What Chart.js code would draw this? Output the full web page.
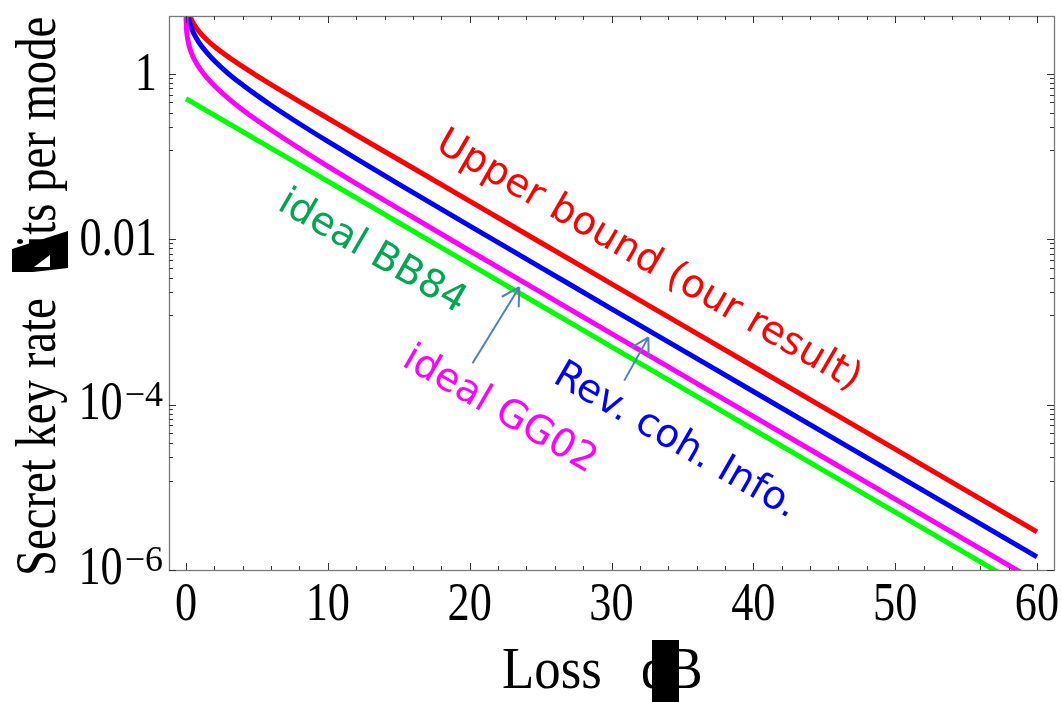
<!DOCTYPE html>
<html lang="en">
<head>
<meta charset="UTF-8">
<title>Secret key rate vs loss</title>
<style>
    body {
        margin: 0;
        background: #ffffff;
    }
</style>
</head>
<body>
<canvas id="rateChart" width="1062" height="702"></canvas>

<script src="https://cdn.jsdelivr.net/npm/chart.js"></script>
<script>
    // loss in dB, shared grid for every curve (denser near 0 where the curves bend)
    const lossDb = [0, 0.002, 0.005, 0.01, 0.02, 0.05, 0.1, 0.2, 0.3, 0.5, 0.75, 1, 1.5, 2, 3, 4, 5, 6, 8, 10, 12, 15, 20, 25, 30, 40, 50, 60];

    // secret key rate, bits per mode (null = above the frame)
    const upperBound = [null, null, null, null, null, 7.44, 6.44, 5.44, 4.86, 4.12, 3.54, 3.12, 2.55, 2.14, 1.59, 1.22, 0.945, 0.741, 0.461, 0.290, 0.182, 0.0913, 0.0289, 0.00912, 0.00289, 2.89e-4, 2.89e-5, 2.89e-6];
    const revCohInfo = [null, null, null, null, 7.77, 6.45, 5.46, 4.47, 3.91, 3.20, 2.66, 2.28, 1.78, 1.44, 1.00, 0.732, 0.548, 0.417, 0.249, 0.152, 0.094, 0.0464, 0.0145, 0.00457, 0.00144, 1.44e-4, 1.44e-5, 1.44e-6];
    const idealGG02 = [null, 5.54, 4.88, 4.38, 3.88, 3.22, 2.73, 2.24, 1.96, 1.60, 1.33, 1.14, 0.888, 0.719, 0.502, 0.366, 0.274, 0.209, 0.125, 0.076, 0.047, 0.0232, 0.00725, 0.00229, 7.2e-4, 7.2e-5, 7.2e-6, 7.2e-7];
    const idealBB84 = [0.5, 0.4998, 0.4994, 0.4989, 0.4977, 0.4943, 0.4886, 0.4775, 0.4666, 0.4456, 0.4207, 0.3972, 0.354, 0.3155, 0.2506, 0.1991, 0.1581, 0.1256, 0.0792, 0.05, 0.0316, 0.0158, 0.005, 0.00158, 5e-4, 5e-5, 5e-6, 5e-7];

    // axes
    const xMajorTicks = [0, 10, 20, 30, 40, 50, 60];
    const xMinorTicks = [2, 4, 6, 8, 12, 14, 16, 18, 22, 24, 26, 28, 32, 34, 36, 38, 42, 44, 46, 48, 52, 54, 56, 58];
    const yMajorTicks = [1, 0.01, 1e-4, 1e-6];
    const yTickBase = ['1', '0.01', '10', '10'];
    const yTickSup = ['', '', '\u22124', '\u22126'];
    const yMinorSteps = [12, 23, 34, 45, 56, 67, 78, 89];
    const yMinorDecades = [1e-2, 1e-4, 1e-6];

    // in-plot labels and arrows (data coordinates)
    const curveLabels = ['Upper bound (our result)', 'Rev. coh. Info.', 'ideal GG02', 'ideal BB84'];
    const labelLoss = [32.6, 34.5, 22.1, 13.1];
    const labelRate = [0.0054, 3.6e-5, 8.5e-5, 0.0069];
    const labelColors = ['#ff0000', '#0000ff', '#ff00ff', '#00a651'];
    const arrowFromLoss = [20.2, 30.9];
    const arrowFromRate = [3.16e-4, 1.95e-4];
    const arrowToLoss = [23.5, 32.6];
    const arrowToRate = [0.00263, 6.5e-4];

    function toPoints(values) {
        return lossDb.map((x, i) => ({ x: x, y: values[i] }));
    }

    function serifText(c, str, x, y, size, align, squeeze) {
        c.save();
        c.translate(x, y);
        c.scale(squeeze || 0.82, 1);
        c.font = size + 'px "Liberation Serif"';
        c.textAlign = align;
        c.textBaseline = 'alphabetic';
        c.fillStyle = '#000';
        c.fillText(str, 0, 0);
        c.restore();
    }

    // frame, inward ticks, tick labels, titles and annotations
    const framePlugin = {
        id: 'mmaFrame',
        afterDraw(chart) {
            const c = chart.ctx;
            const a = chart.chartArea;
            const xs = chart.scales.x;
            const ys = chart.scales.y;

            c.save();
            c.strokeStyle = '#7a7a7a';
            c.lineWidth = 1.3;
            c.strokeRect(a.left + 0.5, a.top + 0.5, a.right - a.left, a.bottom - a.top);

            c.strokeStyle = '#333';
            c.lineWidth = 1;
            c.beginPath();
            const xTick = (v, len) => {
                const px = Math.round(xs.getPixelForValue(v)) + 0.5;
                c.moveTo(px, a.bottom); c.lineTo(px, a.bottom - len);
                c.moveTo(px, a.top); c.lineTo(px, a.top + len);
            };
            const yTick = (v, len) => {
                const py = Math.round(ys.getPixelForValue(v)) + 0.5;
                c.moveTo(a.left, py); c.lineTo(a.left + len, py);
                c.moveTo(a.right, py); c.lineTo(a.right - len, py);
            };
            xMajorTicks.forEach(v => xTick(v, 7));
            xMinorTicks.forEach(v => xTick(v, 4));
            yMajorTicks.forEach(v => yTick(v, 7));
            yMinorDecades.forEach(d => yMinorSteps.forEach(s => yTick(d * s, 4)));
            c.stroke();

            // x tick labels
            xMajorTicks.forEach(v => {
                serifText(c, String(v), xs.getPixelForValue(v), 620, 54, 'center');
            });

            // y tick labels with superscript exponents
            yMajorTicks.forEach((v, i) => {
                const py = ys.getPixelForValue(v);
                if (yTickSup[i]) {
                    const right = 163;
                    c.font = '36px "Liberation Serif"';
                    const w = c.measureText(yTickSup[i]).width;
                    c.fillStyle = '#000';
                    c.textAlign = 'right';
                    c.textBaseline = 'alphabetic';
                    c.fillText(yTickSup[i], right, py + 1);
                    serifText(c, yTickBase[i], right - w - 2, py + 14, 54, 'right');
                } else {
                    serifText(c, yTickBase[i], 157, py + 16, 54, 'right');
                }
            });

            // x title (with the broken glyph block of the original)
            serifText(c, 'Loss', 502, 688, 60, 'left', 0.88);
            serifText(c, 'dB', 641, 688, 60, 'left', 0.88);
            c.fillStyle = '#000';
            c.fillRect(652, 640, 27, 62);

            // y title
            c.save();
            c.translate(55, 576);
            c.rotate(-Math.PI / 2);
            c.scale(0.82, 1);
            c.font = '57px "Liberation Serif"';
            c.textAlign = 'left';
            c.textBaseline = 'alphabetic';
            c.fillStyle = '#000';
            c.fillText('Secret key rate ', 0, 0);
            const off = c.measureText('Secret key rate (').width;
            c.fillText('bits per mode', off, 0);
            c.restore();
            c.fillStyle = '#000';
            c.beginPath();
            c.moveTo(12, 249); c.lineTo(68, 231); c.lineTo(68, 268);
            c.lineTo(33, 272); c.lineTo(12, 272); c.closePath();
            c.fill();
            c.fillStyle = '#fff';
            c.beginPath();
            c.moveTo(34, 267); c.lineTo(50, 255); c.lineTo(50, 267); c.closePath();
            c.fill();

            // curve labels, rotated along the lines
            curveLabels.forEach((t, i) => {
                c.save();
                c.translate(xs.getPixelForValue(labelLoss[i]), ys.getPixelForValue(labelRate[i]));
                c.rotate(30 * Math.PI / 180);
                c.font = '39px "DejaVu Sans"';
                c.fillStyle = labelColors[i];
                c.textAlign = 'center';
                c.textBaseline = 'middle';
                c.fillText(t, 0, 0);
                c.restore();
            });

            // arrows
            c.strokeStyle = '#4f81bd';
            c.lineWidth = 2;
            arrowToLoss.forEach((_, i) => {
                const x0 = xs.getPixelForValue(arrowFromLoss[i]);
                const y0 = ys.getPixelForValue(arrowFromRate[i]);
                const x1 = xs.getPixelForValue(arrowToLoss[i]);
                const y1 = ys.getPixelForValue(arrowToRate[i]);
                const ang = Math.atan2(y0 - y1, x0 - x1);
                c.beginPath();
                c.moveTo(x0, y0); c.lineTo(x1, y1);
                [-0.52, 0.52].forEach(d => {
                    c.moveTo(x1, y1);
                    c.lineTo(x1 + 20 * Math.cos(ang + d), y1 + 20 * Math.sin(ang + d));
                });
                c.stroke();
            });
            c.restore();
        }
    };

    const ctx = document.getElementById('rateChart').getContext('2d');

    const seriesList = [
        { values: idealBB84, color: '#00ff00' },
        { values: idealGG02, color: '#ff00ff' },
        { values: revCohInfo, color: '#0000ff' },
        { values: upperBound, color: '#ff0000' }
    ];

    new Chart(ctx, {
        type: 'line',
        data: {
            datasets: seriesList.map(s => ({
                data: toPoints(s.values),
                borderColor: s.color,
                borderWidth: 5,
                pointRadius: 0,
                fill: false,
                cubicInterpolationMode: 'monotone',
                borderJoinStyle: 'round',
                clip: 0
            }))
        },
        options: {
            responsive: false,
            animation: false,
            layout: { padding: { left: 169, top: 16, right: 8, bottom: 132 } },
            plugins: {
                legend: { display: false },
                tooltip: { enabled: false }
            },
            scales: {
                x: { type: 'linear', min: -1.2, max: 61.2, display: false },
                y: { type: 'logarithmic', min: 1e-6, max: 5, display: false }
            }
        },
        plugins: [framePlugin]
    });
</script>
</body>
</html>
